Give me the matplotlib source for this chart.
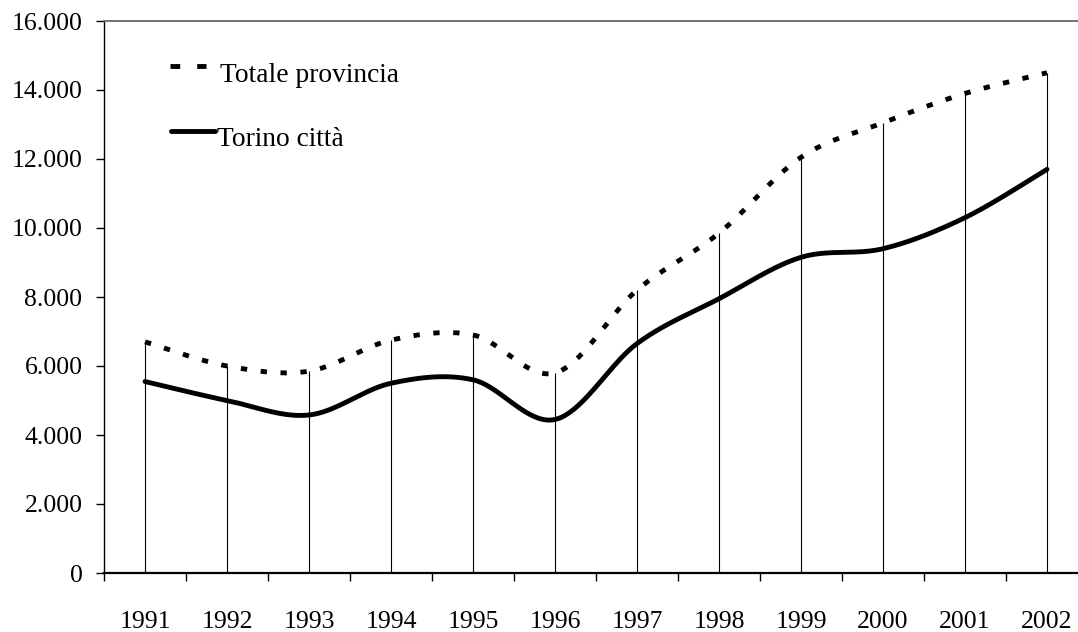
import matplotlib
matplotlib.use("Agg")
import matplotlib.pyplot as plt
import numpy as np

plt.rcParams['font.family'] = ['Liberation Serif', 'DejaVu Serif']

anni = ["1991", "1992", "1993", "1994", "1995", "1996",
        "1997", "1998", "1999", "2000", "2001", "2002"]
totale_provincia = [6700, 6000, 5850, 6750, 6900, 5800,
                    8200, 9850, 12050, 13050, 13900, 14500]
torino_citta = [5550, 5000, 4580, 5500, 5600, 4450,
                6650, 7950, 9150, 9400, 10300, 11700]


def smooth(xs, ys, n=40):
    # curva "smussata" tipo Excel (bezier con punti di controllo a 1/6)
    p = np.column_stack([xs, ys]).astype(float)
    p = np.vstack([p[0], p, p[-1]])
    out = []
    t = np.linspace(0, 1, n)[:, None]
    for i in range(1, len(p) - 2):
        p0, p1, p2, p3 = p[i - 1], p[i], p[i + 1], p[i + 2]
        c1 = p1 + (p2 - p0) / 6
        c2 = p2 - (p3 - p1) / 6
        seg = ((1 - t) ** 3) * p1 + 3 * ((1 - t) ** 2) * t * c1 \
            + 3 * (1 - t) * t ** 2 * c2 + t ** 3 * p2
        out.append(seg if i == 1 else seg[1:])
    out = np.vstack(out)
    return out[:, 0], out[:, 1]


fig = plt.figure(figsize=(10.78, 6.32), dpi=100)
ax = fig.add_axes([104 / 1078, 59 / 632, 984 / 1078, 552 / 632])

x = np.arange(len(anni))

# linee di riferimento verticali
ax.vlines(x, 0, totale_provincia, color="black", lw=0.8, zorder=1)

sx, sy = smooth(x, totale_provincia)
ax.plot(sx, sy, color="black", lw=3.5, linestyle=(0, (1.3, 2.8)),
        dash_capstyle="butt", zorder=3)
sx, sy = smooth(x, torino_citta)
ax.plot(sx, sy, color="black", lw=3.5, solid_capstyle="round", zorder=3)

ax.set_xlim(-0.5, len(anni) - 0.5)
ax.set_ylim(0, 16000)
ax.set_yticks(range(0, 16001, 2000))
ax.set_yticklabels(["0" if v == 0 else f"{v:,}".replace(",", ".")
                    for v in range(0, 16001, 2000)])
ax.set_xticks(x)
ax.set_xticklabels(anni)
ax.set_xticks(np.arange(-0.5, len(anni), 1), minor=True)
ax.tick_params(axis="x", which="major", length=0, pad=27.5, labelsize=18.5)
ax.tick_params(axis="x", which="minor", length=5.5, width=1, direction="out")
ax.tick_params(axis="y", length=5.5, width=1, pad=10, labelsize=18.5)

ax.spines["right"].set_visible(False)
ax.spines["top"].set_color("#666666")
ax.spines["top"].set_linewidth(1.3)
ax.spines["left"].set_linewidth(1)
ax.spines["bottom"].set_linewidth(1.6)

# legenda
fig.add_artist(plt.Line2D([170 / 1078, 206 / 1078], [1 - 66 / 632, 1 - 66 / 632],
                          color="black", lw=3.5, linestyle=(0, (2, 3.5)),
                          dash_capstyle="butt"))
fig.text(220 / 1078, 1 - 75 / 632, "Totale provincia", fontsize=19.8,
         va="center", ha="left")
fig.add_artist(plt.Line2D([171 / 1078, 215 / 1078], [1 - 131 / 632, 1 - 131 / 632],
                          color="black", lw=3.5, solid_capstyle="round"))
fig.text(217 / 1078, 1 - 140 / 632, "Torino città", fontsize=19.8,
         va="center", ha="left")

fig.savefig("out.png", dpi=100)
